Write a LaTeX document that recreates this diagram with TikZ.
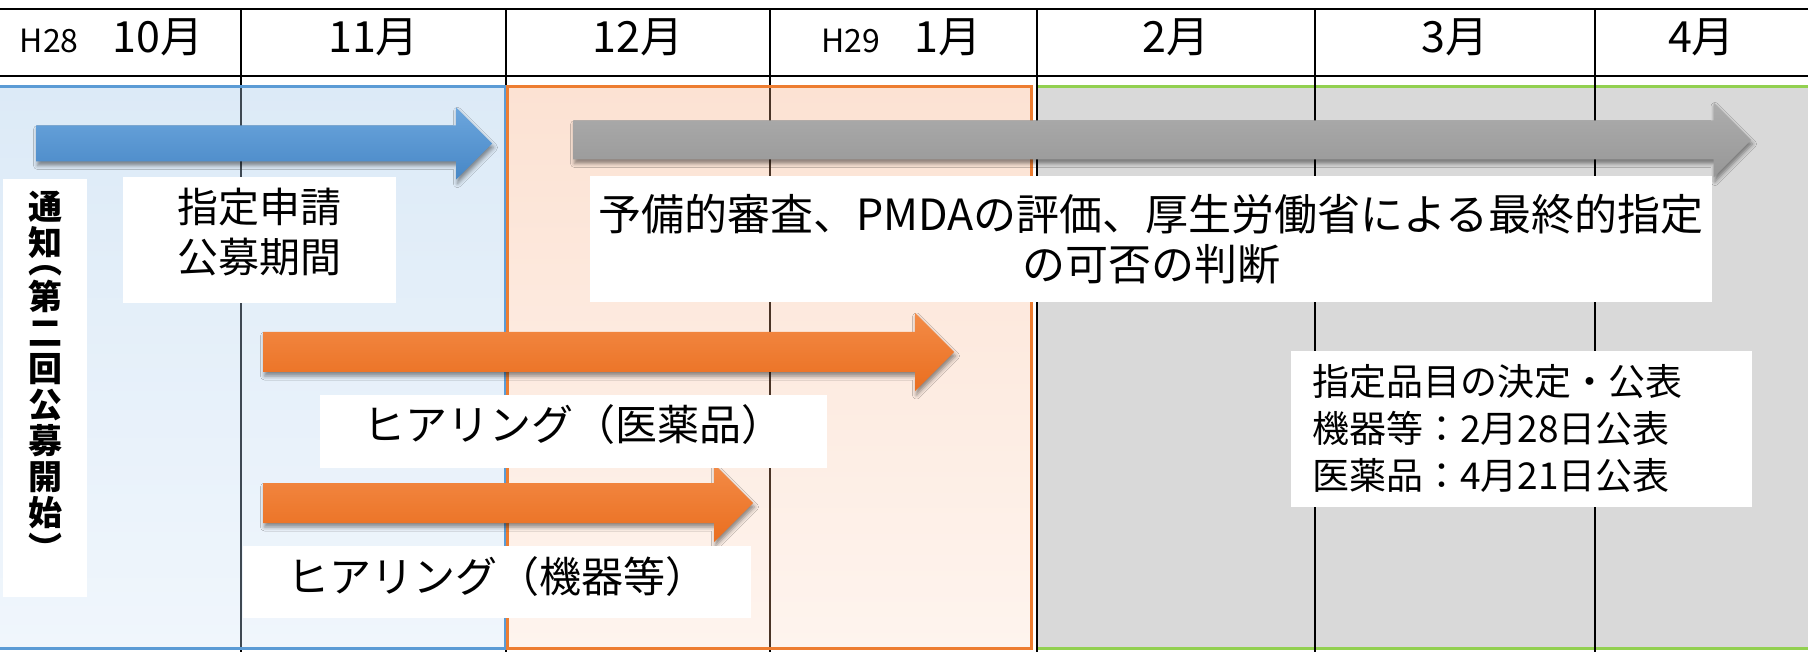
\documentclass[tikz,border=0pt]{standalone}
\usepackage{fontspec}
\setmainfont{Noto Sans CJK JP}
\usetikzlibrary{shadows.blur}

\definecolor{bluefillA}{HTML}{DCEAF7}
\definecolor{bluefillB}{HTML}{F0F6FC}
\definecolor{blueedge}{HTML}{5B9BD5}
\definecolor{orfillA}{HTML}{FCE2D3}
\definecolor{orfillB}{HTML}{FEF4EE}
\definecolor{oredge}{HTML}{ED7D31}
\definecolor{grayfill}{HTML}{D9D9D9}
\definecolor{greenedge}{HTML}{92D050}
\definecolor{arrblueA}{HTML}{6CA6DD}
\definecolor{arrblueB}{HTML}{4787C6}
\definecolor{arrorA}{HTML}{F38B47}
\definecolor{arrorB}{HTML}{EA6E1F}
\definecolor{arrgrayA}{HTML}{ADADAD}
\definecolor{arrgrayB}{HTML}{979797}
\definecolor{dimblue}{HTML}{3E4852}
\definecolor{dimorange}{HTML}{4A3426}

\newcommand\tlbar[6]{\path[#1] (#2,#4-#5) -- (#3-#6,#4-#5) -- (#3-#6,#4-#6) -- (#3,#4) -- (#3-#6,#4+#6) -- (#3-#6,#4+#5) -- (#2,#4+#5) -- cycle;}

\begin{document}
\begin{tikzpicture}[x=1pt,y=-1pt,
  gridline/.style={line width=2.2pt, black},
  month/.style={font=\fontsize{43}{46}\selectfont, inner sep=0pt, anchor=base},
  whitebox/.style={fill=white, inner sep=0pt},
  barshadow/.style={blur shadow={shadow xshift=1.5pt, shadow yshift=-4pt, shadow blur radius=4pt, shadow opacity=45}},
  bluebar/.style={top color=arrblueA, bottom color=arrblueB, barshadow},
  orangebar/.style={top color=arrorA, bottom color=arrorB, barshadow},
  graybar/.style={top color=arrgrayA, bottom color=arrgrayB, barshadow},
  boxedge/.style={line width=3pt}
]
\useasboundingbox (0,0) rectangle (1808,652);
\clip (0,0) rectangle (1808,652);
\fill[white] (0,0) rectangle (1808,652);

% evaluation period (gray)
\fill[grayfill] (1037,87) rectangle (1815,648);
\draw[greenedge, boxedge] (1037,87) -- (1815,87);
\draw[greenedge, boxedge] (1037,648) -- (1815,648);

% grid
\draw[gridline] (0,9) -- (1808,9);
\draw[gridline] (0,76) -- (1808,76);
\foreach \gx in {241,506,770,1037,1315,1595}
  \draw[gridline] (\gx,9) -- (\gx,652);

% application period (blue) and hearing period (orange)
\path[top color=bluefillA, bottom color=bluefillB] (-5,87) rectangle (505,648);
\path[top color=orfillA, bottom color=orfillB] (507,87) rectangle (1031,648);
\draw[dimblue, line width=2pt] (241,87) -- (241,648);
\draw[dimorange, line width=2pt] (770,87) -- (770,648);
\draw[blueedge, boxedge] (-5,87) rectangle (505,648);
\draw[oredge, boxedge] (507,87) rectangle (1031,648);

% bars
\tlbar{bluebar}{36}{492}{143.5}{18}{36}
\tlbar{graybar}{573}{1751}{140}{19.5}{37.5}
\tlbar{orangebar}{263}{954}{352}{20}{39}
\tlbar{orangebar}{263}{753}{503}{20}{39}

% header
\node[month] (h10) at (111.5,53) {{\fontsize{32}{34}\selectfont H28}\hspace{34pt}10月};
\node[month] (h11) at (373.5,53) {11月};
\node[month] (h12) at (638,53) {12月};
\node[month] (h1) at (901.5,53) {{\fontsize{32}{34}\selectfont H29}\hspace{34pt}1月};
\node[month] (h2) at (1176,53) {2月};
\node[month] (h3) at (1455,53) {3月};
\node[month] (h4) at (1701.5,53) {4月};

% labels
\node[whitebox, minimum width=84, minimum height=418, font=\fontsize{34}{36}\selectfont\bfseries, align=center, text depth=24pt] (notice) at (45,388) {通\\知\\[-18pt]︵\\第\\二\\回\\公\\募\\開\\始\\︶};
\node[whitebox, minimum width=273, minimum height=126, font=\fontsize{41}{50}\selectfont, align=center, text depth=19pt] (apply) at (259.5,240) {指定申請\\公募期間};
\node[whitebox, minimum width=1122, minimum height=126, font=\fontsize{43}{50}\selectfont, align=center] (review) at (1151,239) {予備的審査、PMDAの評価、厚生労働省による最終的指定\\の可否の判断};
\node[whitebox, minimum width=507, minimum height=73, font=\fontsize{42}{48}\selectfont, text depth=18pt] (hearM) at (573.5,431.5) {ヒアリング（医薬品）};
\node[whitebox, minimum width=508, minimum height=72, font=\fontsize{42}{48}\selectfont, text depth=14pt] (hearD) at (497,582) {ヒアリング（機器等）};
\node[whitebox, minimum height=156, text width=419pt, inner xsep=21pt, inner ysep=0pt, font=\fontsize{37}{47}\selectfont, align=left] (result) at (1521.5,429) {指定品目の決定・公表\\機器等：2月28日公表\\医薬品：4月21日公表};
\end{tikzpicture}
\end{document}
